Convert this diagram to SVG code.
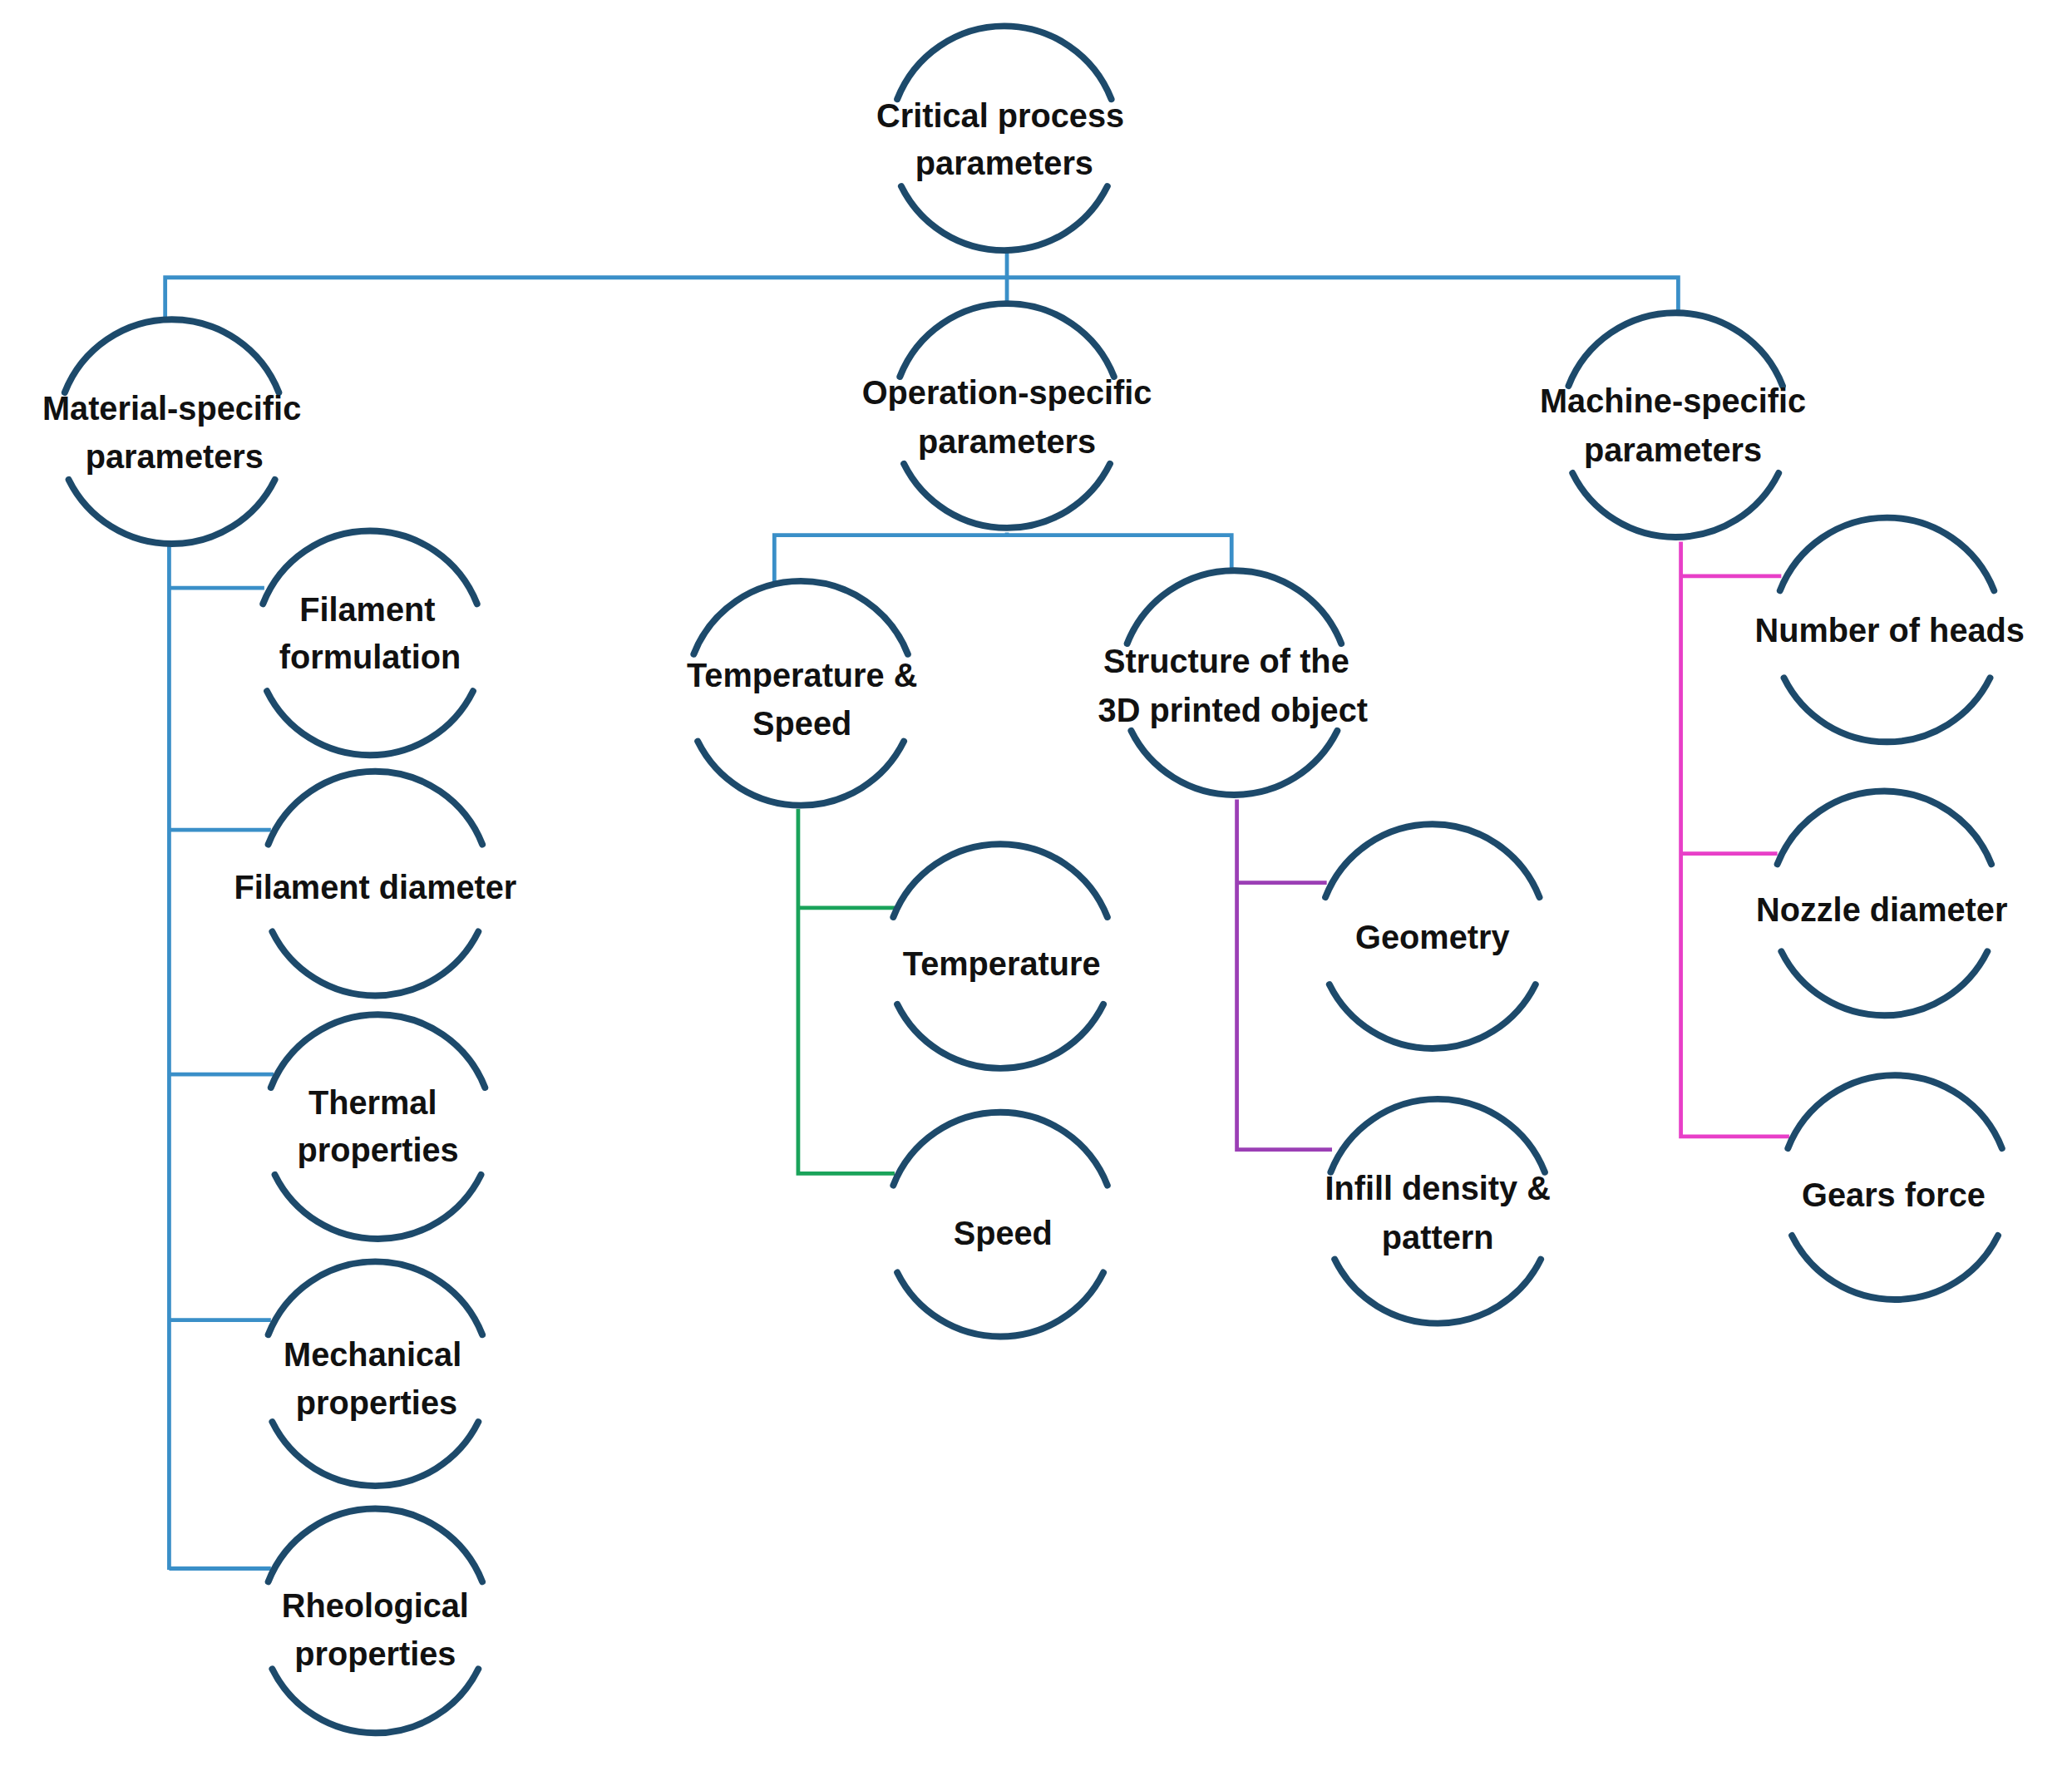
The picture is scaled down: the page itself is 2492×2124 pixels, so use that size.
<svg xmlns="http://www.w3.org/2000/svg" xmlns:xlink="http://www.w3.org/1999/xlink" width="2492" height="2124" viewBox="0 0 2492 2124">
<style>
.ring{fill:none;stroke:#1d4a6b;stroke-width:5;stroke-linecap:round}
text{font-family:"Liberation Sans",Arial,sans-serif;font-weight:bold;font-size:25px;fill:#111;text-anchor:middle}
.c{fill:none;stroke-width:3}
.b{stroke:#3a8fc8}.g{stroke:#1aa35a}.p{stroke:#9b3fb5}.m{stroke:#e83fc8}
</style>
<defs>
<path id="ring" class="ring" d="M-81,-30 A87,87 0 0 1 81,-30 M-78,36 A87,87 0 0 0 78,36"/>
</defs>
<rect width="2492" height="2124" fill="#fff"/>
<g transform="scale(1.5893)">
<g id="connectors">
<path class="c b" d="M762,190 V210 M125,240 V210 H1270 V235 M762,210 V228"/>
<path class="c b" d="M128,412 V1188 M128,445 H200 M128,628 H205 M128,813 H207 M128,999 H205 M128,1187 H205"/>
<path class="c b" d="M762,403 V405 M586,440 V405 H932 V432"/>
<path class="c g" d="M604,612 V888 H677 M604,687 H677"/>
<path class="c p" d="M936,605 V870 H1008 M936,668 H1004"/>
<path class="c m" d="M1272,410 V860 H1354 M1272,436 H1348 M1272,646 H1345"/>
</g>
<g id="n-root"><use xlink:href="#ring" x="760" y="105"/><text x="757" y="96">Critical process</text><text x="760" y="132">parameters</text></g>
<g id="n-material"><use xlink:href="#ring" x="130" y="327"/><text x="130" y="318">Material-specific</text><text x="132" y="354">parameters</text></g>
<g id="n-operation"><use xlink:href="#ring" x="762" y="315"/><text x="762" y="306">Operation-specific</text><text x="762" y="343">parameters</text></g>
<g id="n-machine"><use xlink:href="#ring" x="1268" y="322"/><text x="1266" y="312">Machine-specific</text><text x="1266" y="349">parameters</text></g>
<g id="n-filform"><use xlink:href="#ring" x="280" y="487"/><text x="278" y="470">Filament</text><text x="280" y="506">formulation</text></g>
<g id="n-fildiam"><use xlink:href="#ring" x="284" y="669"/><text x="284" y="680">Filament diameter</text></g>
<g id="n-thermal"><use xlink:href="#ring" x="286" y="853"/><text x="282" y="843">Thermal</text><text x="286" y="879">properties</text></g>
<g id="n-mech"><use xlink:href="#ring" x="284" y="1040"/><text x="282" y="1034">Mechanical</text><text x="285" y="1070">properties</text></g>
<g id="n-rheo"><use xlink:href="#ring" x="284" y="1227"/><text x="284" y="1224">Rheological</text><text x="284" y="1260">properties</text></g>
<g id="n-tempspeed"><use xlink:href="#ring" x="606" y="525"/><text x="607" y="520">Temperature &amp;</text><text x="607" y="556">Speed</text></g>
<g id="n-structure"><use xlink:href="#ring" x="934" y="517"/><text x="928" y="509">Structure of the</text><text x="933" y="546">3D printed object</text></g>
<g id="n-temp"><use xlink:href="#ring" x="757" y="724"/><text x="758" y="738">Temperature</text></g>
<g id="n-speed"><use xlink:href="#ring" x="757" y="927"/><text x="759" y="942">Speed</text></g>
<g id="n-geometry"><use xlink:href="#ring" x="1084" y="709"/><text x="1084" y="718">Geometry</text></g>
<g id="n-infill"><use xlink:href="#ring" x="1088" y="917"/><text x="1088" y="908">Infill density &amp;</text><text x="1088" y="945">pattern</text></g>
<g id="n-heads"><use xlink:href="#ring" x="1428" y="477"/><text x="1430" y="486">Number of heads</text></g>
<g id="n-nozzle"><use xlink:href="#ring" x="1426" y="684"/><text x="1424" y="697">Nozzle diameter</text></g>
<g id="n-gears"><use xlink:href="#ring" x="1434" y="899"/><text x="1433" y="913">Gears force</text></g>
</g>
</svg>
